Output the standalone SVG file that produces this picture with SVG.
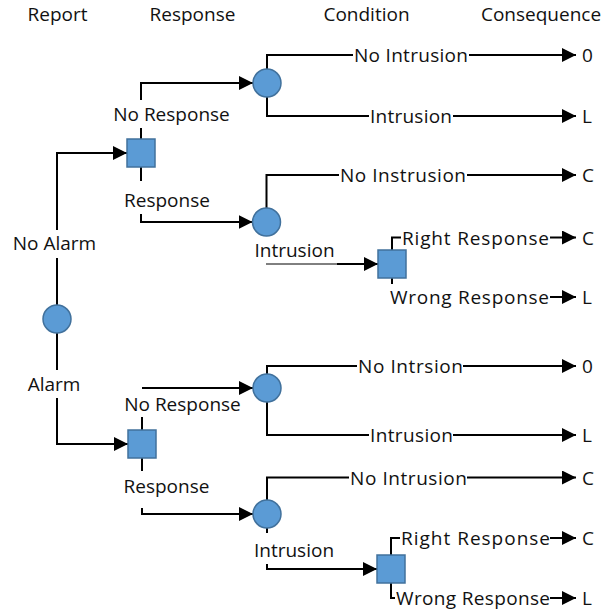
<svg xmlns="http://www.w3.org/2000/svg" width="604" height="611" viewBox="0 0 604 611">
<style>
text{font-family:"Open Sans","Liberation Sans",Arial,sans-serif;font-size:19px;fill:#111}
.c{text-anchor:middle}
.ln{fill:none;stroke:#000;stroke-width:2}
.thin{fill:none;stroke:#000;stroke-width:1}
.arr{marker-end:url(#ah)}
.chance{fill:#5B9BD5;stroke:#41719C;stroke-width:1.5}
.dec{fill:#5B9BD5;stroke:#41719C;stroke-width:1.5}
</style>
<defs>
<marker id="ah" markerUnits="userSpaceOnUse" markerWidth="14" markerHeight="14" viewBox="0 0 14 14" refX="14" refY="7" orient="auto">
<path d="M0,0 L14,7 L0,14 z" fill="#000"/>
</marker>
</defs>
<rect width="604" height="611" fill="#fff"/>
<g id="headers">
<text class="c" x="57.5" y="21">Report</text>
<text class="c" x="192.5" y="21">Response</text>
<text class="c" x="366.5" y="21">Condition</text>
<text class="c" x="541" y="21">Consequence</text>
</g>
<g id="connectors">
<path class="ln" d="M57,305 V258"/>
<path class="ln arr" d="M57,230 V153 H127"/>
<path class="ln" d="M57,333 V370"/>
<path class="ln arr" d="M57,398 V444 H128"/>
<path class="ln" d="M141,139 V128"/>
<path class="ln arr" d="M141,100 V83 H253"/>
<path class="ln" d="M141,167 V181"/>
<path class="ln arr" d="M141,214 V222 H252.5"/>
<path class="ln" d="M142,430 V417"/>
<path class="ln arr" d="M142,388 H253"/>
<path class="ln" d="M142,458 V471"/>
<path class="ln arr" d="M142,508 V514 H253"/>
<path class="ln" d="M267,69 V55 H353"/>
<path class="ln arr" d="M469,55 H576"/>
<path class="ln" d="M267,97 V116 H369"/>
<path class="ln arr" d="M453,116 H576"/>
<path class="ln" d="M266.5,208 V175 H339"/>
<path class="ln arr" d="M467,175 H576"/>
<path class="thin" d="M266,264 H337"/>
<path class="ln arr" d="M337,264 H378"/>
<path class="ln" d="M392,250 V237.5 H401"/>
<path class="ln arr" d="M550,237.5 H576"/>
<path class="ln" d="M392,278 V284"/>
<path class="ln arr" d="M550,297 H576"/>
<path class="ln" d="M267,374 V366 H357"/>
<path class="ln arr" d="M463,366 H576"/>
<path class="ln" d="M267,402 V435 H369"/>
<path class="ln arr" d="M453,435 H576"/>
<path class="ln" d="M267,500 V477.5 H349"/>
<path class="ln arr" d="M467,477.5 H576"/>
<path class="ln" d="M267,528 V533"/>
<path class="ln arr" d="M267,564 V569 H377"/>
<path class="ln" d="M391,555 V538 H400"/>
<path class="ln arr" d="M550,538 H576"/>
<path class="ln" d="M391,583 V598 H395"/>
<path class="ln arr" d="M550,598 H576"/>
</g>
<g id="report">
<circle class="chance" cx="57" cy="319" r="14"/>
<text class="c" x="54.5" y="250">No Alarm</text>
<text class="c" x="54" y="391">Alarm</text>
</g>
<g id="response-noalarm">
<rect class="dec" x="127" y="139" width="28" height="28"/>
<text class="c" x="171.5" y="121">No Response</text>
<text class="c" x="167" y="207">Response</text>
</g>
<g id="response-alarm">
<rect class="dec" x="128" y="430" width="28" height="28"/>
<text class="c" x="182.5" y="411">No Response</text>
<text class="c" x="166.5" y="493">Response</text>
</g>
<g id="condition-1">
<circle class="chance" cx="267" cy="83" r="14"/>
<text x="354" y="62" textLength="114">No Intrusion</text>
<text x="370" y="123" textLength="82">Intrusion</text>
</g>
<g id="condition-2">
<circle class="chance" cx="266.5" cy="222" r="14"/>
<text x="340" y="182" textLength="126">No Instrusion</text>
<text class="c" x="294.5" y="257">Intrusion</text>
</g>
<g id="response-3">
<rect class="dec" x="378" y="250" width="28" height="28"/>
<text x="402" y="244.5" textLength="147">Right Response</text>
<text x="390" y="304" textLength="159">Wrong Response</text>
</g>
<g id="condition-3">
<circle class="chance" cx="267" cy="388" r="14"/>
<text x="358" y="373" textLength="105">No Intrsion</text>
<text x="370" y="442" textLength="83">Intrusion</text>
</g>
<g id="condition-4">
<circle class="chance" cx="267" cy="514" r="14"/>
<text x="350" y="484.5" textLength="117">No Intrusion</text>
<text class="c" x="294" y="557">Intrusion</text>
</g>
<g id="response-4">
<rect class="dec" x="377" y="555" width="28" height="28"/>
<text x="401" y="545" textLength="149">Right Response</text>
<text x="396" y="605" textLength="154">Wrong Response</text>
</g>
<g id="consequences">
<text x="582" y="62">0</text>
<text x="582" y="123">L</text>
<text x="582" y="182">C</text>
<text x="582" y="244.5">C</text>
<text x="582" y="304">L</text>
<text x="582" y="373">0</text>
<text x="582" y="442">L</text>
<text x="582" y="484.5">C</text>
<text x="582" y="545">C</text>
<text x="582" y="605">L</text>
</g>
</svg>
